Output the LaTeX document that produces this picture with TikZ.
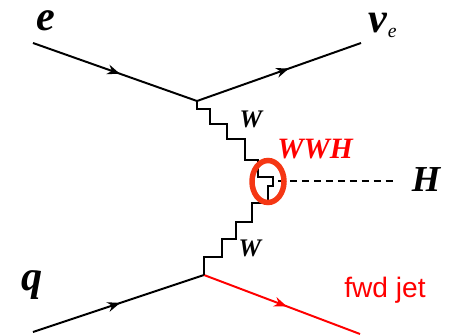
\documentclass[tikz,border=0pt]{standalone}
\usepackage{fontspec}
\newfontfamily\jetfont{Liberation Sans}
\newfontfamily\lblfont{Liberation Serif}
\usetikzlibrary{arrows.meta,decorations.markings}
\definecolor{ringred}{RGB}{245,55,20}
\tikzset{
  fermion/.style={line width=1.4pt,postaction={decorate},
    decoration={markings,mark=at position #1 with {\arrow{Stealth[length=9pt,width=7pt]}}}},
  fermion/.default=0.55,
  wboson/.style={line width=1.3pt,line join=miter},
  higgs/.style={line width=1.4pt,dash pattern=on 5pt off 3.5pt},
  lbl/.style={inner sep=0pt,font=\lblfont\bfseries\itshape\fontsize{#1}{#1}\selectfont},
  lbl/.default=30
}
\begin{document}
\begin{tikzpicture}[x=0.025cm,y=-0.025cm]
\useasboundingbox (0,0) rectangle (455,336);
% vertices and free ends
\coordinate (ein) at (33,43);
\coordinate (v1) at (197,101);
\coordinate (nuout) at (361,43);
\coordinate (qin) at (33,332);
\coordinate (v2) at (204,275);
\coordinate (jetout) at (360,334);
\coordinate (vH) at (273,181);
\coordinate (hend) at (393,181);
% labels
\node[lbl] (e) at (46,21) {e};
\node[lbl] (nue) at (378,23) {ν};
\node[inner sep=0pt,font=\lblfont\itshape\fontsize{14}{14}\selectfont,anchor=west] (nusub) at (nue.south east) {e};
\node[lbl] (q) at (32,285) {q};
\node[lbl=18] (w1) at (251,119) {W};
\node[lbl=18] (w2) at (250,248) {W};
\node[lbl=21,red] (wwh) at (315,149) {WWH};
\node[lbl=26] (h) at (426,180) {H};
\node[inner sep=0pt,red,font=\jetfont\fontsize{20}{22}\selectfont] (jet) at (385,290) {fwd jet};
% fermion lines
\draw[fermion=0.53] (ein) -- (v1);
\draw[fermion=0.56] (v1) -- (nuout);
\draw[fermion=0.51] (qin) -- (v2);
\draw[fermion=0.53,red] (v2) -- (jetout);
% W propagators
\draw[wboson] (v1) |- (210,109) |- (227,124) |- (245,139) |- (258,160) |- (273,177) -- (vH);
\draw[wboson] (v2) |- (222,257) |- (236,239) |- (252,222) |- (268,203) |- (273,186) -- (vH);
% Higgs
\draw[higgs] (vH) ++(5,0) -- (hend);
\draw[ringred,line width=3.9pt] (268,181.5) ellipse (16 and 21);
\end{tikzpicture}
\end{document}
